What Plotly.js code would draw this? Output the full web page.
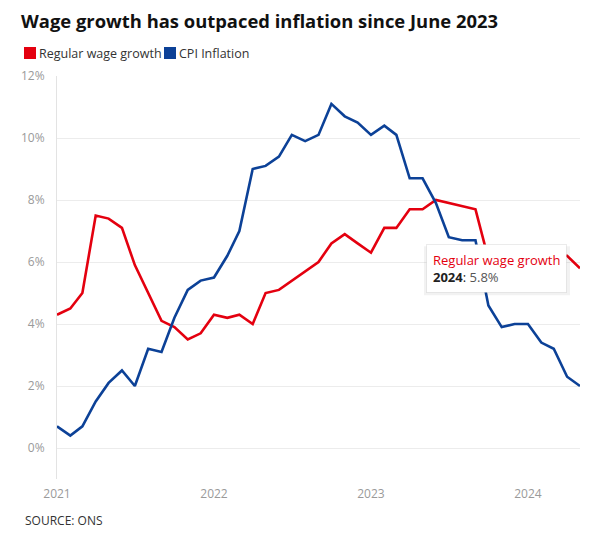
<!DOCTYPE html>
<html>
<head>
<meta charset="utf-8">
<script src="https://cdn.plot.ly/plotly-3.0.1.min.js"></script>
<style>html,body{margin:0;padding:0;background:#fff;}#chart{width:599px;height:547px;}</style>
</head>
<body>
<div id="chart"></div>
<script>
// ---- data ----
var months = [
  "2021-01-01","2021-02-01","2021-03-01","2021-04-01","2021-05-01","2021-06-01","2021-07-01","2021-08-01","2021-09-01","2021-10-01","2021-11-01","2021-12-01",
  "2022-01-01","2022-02-01","2022-03-01","2022-04-01","2022-05-01","2022-06-01","2022-07-01","2022-08-01","2022-09-01","2022-10-01","2022-11-01","2022-12-01",
  "2023-01-01","2023-02-01","2023-03-01","2023-04-01","2023-05-01","2023-06-01","2023-07-01","2023-08-01","2023-09-01","2023-10-01","2023-11-01","2023-12-01",
  "2024-01-01","2024-02-01","2024-03-01","2024-04-01","2024-05-01"
];
var wageGrowth = [
  4.3,4.5,5.0,7.5,7.4,7.1,5.9,5.0,4.1,3.9,3.5,3.7,
  4.3,4.2,4.3,4.0,5.0,5.1,5.4,5.7,6.0,6.6,6.9,6.6,
  6.3,7.1,7.1,7.7,7.7,8.0,7.9,7.8,7.7,6.1,6.0,6.0,
  6.1,6.1,6.2,6.2,5.8
];
var cpiInflation = [
  0.7,0.4,0.7,1.5,2.1,2.5,2.0,3.2,3.1,4.2,5.1,5.4,
  5.5,6.2,7.0,9.0,9.1,9.4,10.1,9.9,10.1,11.1,10.7,10.5,
  10.1,10.4,10.1,8.7,8.7,7.9,6.8,6.7,6.7,4.6,3.9,4.0,
  4.0,3.4,3.2,2.3,2.0
];
var seriesNames = ["Regular wage growth", "CPI Inflation"];
var yTickVals = [0, 2, 4, 6, 8, 10, 12];
var yTickText = ["0%", "2%", "4%", "6%", "8%", "10%", "12%"];
var xTickVals = ["2021-01-01", "2022-01-01", "2023-01-01", "2024-01-01"];
var xTickText = ["2021", "2022", "2023", "2024"];
var titleText = "Wage growth has outpaced inflation since June 2023";
var sourceText = "SOURCE: ONS";
var tooltipLabel = "2024";

// ---- styling / layout ----
var RED = "#e4000f", BLUE = "#0c4197";
var W = 599, H = 547, L = 57, R = 19, T = 76, B = 68;
var pw = W - L - R, ph = H - T - B;
function px(x) { return (x - L) / pw; }
function py(y) { return (H - B - y) / ph; }
var FONT = "'Open Sans', sans-serif";

var traces = [
  {x: months, y: wageGrowth, name: seriesNames[0], type: "scatter", mode: "lines",
   line: {color: RED, width: 2.6}, showlegend: false, hoverinfo: "skip"},
  {x: months, y: cpiInflation, name: seriesNames[1], type: "scatter", mode: "lines",
   line: {color: BLUE, width: 2.6}, showlegend: false, hoverinfo: "skip"}
];

var last = months.length - 1;
var tipText = '<span style="color:' + RED + '">' + seriesNames[0] + '</span><br><b>' + tooltipLabel + '</b>: <span style="color:#555">' + wageGrowth[last].toFixed(1) + '%</span>';

var layout = {
  width: W, height: H,
  margin: {l: L, r: R, t: T, b: B, pad: 0},
  paper_bgcolor: "#fff", plot_bgcolor: "#fff",
  font: {family: FONT, color: "#333"},
  title: {text: "<b>" + titleText + "</b>", xref: "container", yref: "container",
          x: 21 / W, xanchor: "left", y: 1 - 22 / H, yanchor: "middle",
          font: {family: FONT, size: 18.4, color: "#111"}},
  showlegend: false,
  xaxis: {type: "date", range: [months[0], months[last]], tickvals: xTickVals, ticktext: xTickText,
          showgrid: false, zeroline: false, showline: false, ticks: "",
          tickfont: {size: 12, color: "#9a9a9a"}, ticklabelstandoff: 6, fixedrange: true},
  yaxis: {range: [-1, 12], tickvals: yTickVals, ticktext: yTickText,
          showgrid: true, gridcolor: "#ececec", gridwidth: 1, zeroline: false,
          showline: true, linecolor: "#e3e3e3", linewidth: 1, ticks: "",
          tickfont: {size: 12, color: "#9a9a9a"}, ticklabelstandoff: 9, fixedrange: true},
  shapes: [
    {type: "rect", xref: "paper", yref: "paper", x0: px(24), x1: px(36), y0: py(59), y1: py(47),
     fillcolor: RED, line: {width: 0}},
    {type: "rect", xref: "paper", yref: "paper", x0: px(164), x1: px(176), y0: py(59), y1: py(47),
     fillcolor: BLUE, line: {width: 0}},
    // soft shadow behind the tooltip
    {type: "rect", xref: "x", yref: "y", layer: "above",
     xsizemode: "pixel", xanchor: months[last], x0: -156, x1: -10,
     ysizemode: "pixel", yanchor: wageGrowth[last], y0: -27, y1: 22,
     fillcolor: "rgba(0,0,0,0.05)", line: {width: 0}}
  ],
  annotations: [
    {xref: "paper", yref: "paper", x: px(37), y: py(53), xanchor: "left", yanchor: "middle",
     text: seriesNames[0], showarrow: false, font: {size: 12.5, color: "#333"}},
    {xref: "paper", yref: "paper", x: px(177), y: py(53), xanchor: "left", yanchor: "middle",
     text: seriesNames[1], showarrow: false, font: {size: 12.5, color: "#333"}},
    {xref: "paper", yref: "paper", x: px(23), y: py(520), xanchor: "left", yanchor: "middle",
     text: sourceText, showarrow: false, font: {size: 12, color: "#333"}},
    {xref: "x", yref: "y", x: months[last], y: wageGrowth[last], xanchor: "right", yanchor: "middle",
     xshift: -13, yshift: 0, showarrow: false, align: "left", text: tipText,
     bgcolor: "#ffffff", bordercolor: "rgba(0,0,0,0.08)", borderwidth: 1, borderpad: 6,
     font: {size: 13, color: "#222"}}
  ]
};

Plotly.newPlot("chart", traces, layout, {displayModeBar: false, staticPlot: true});
</script>
</body>
</html>
